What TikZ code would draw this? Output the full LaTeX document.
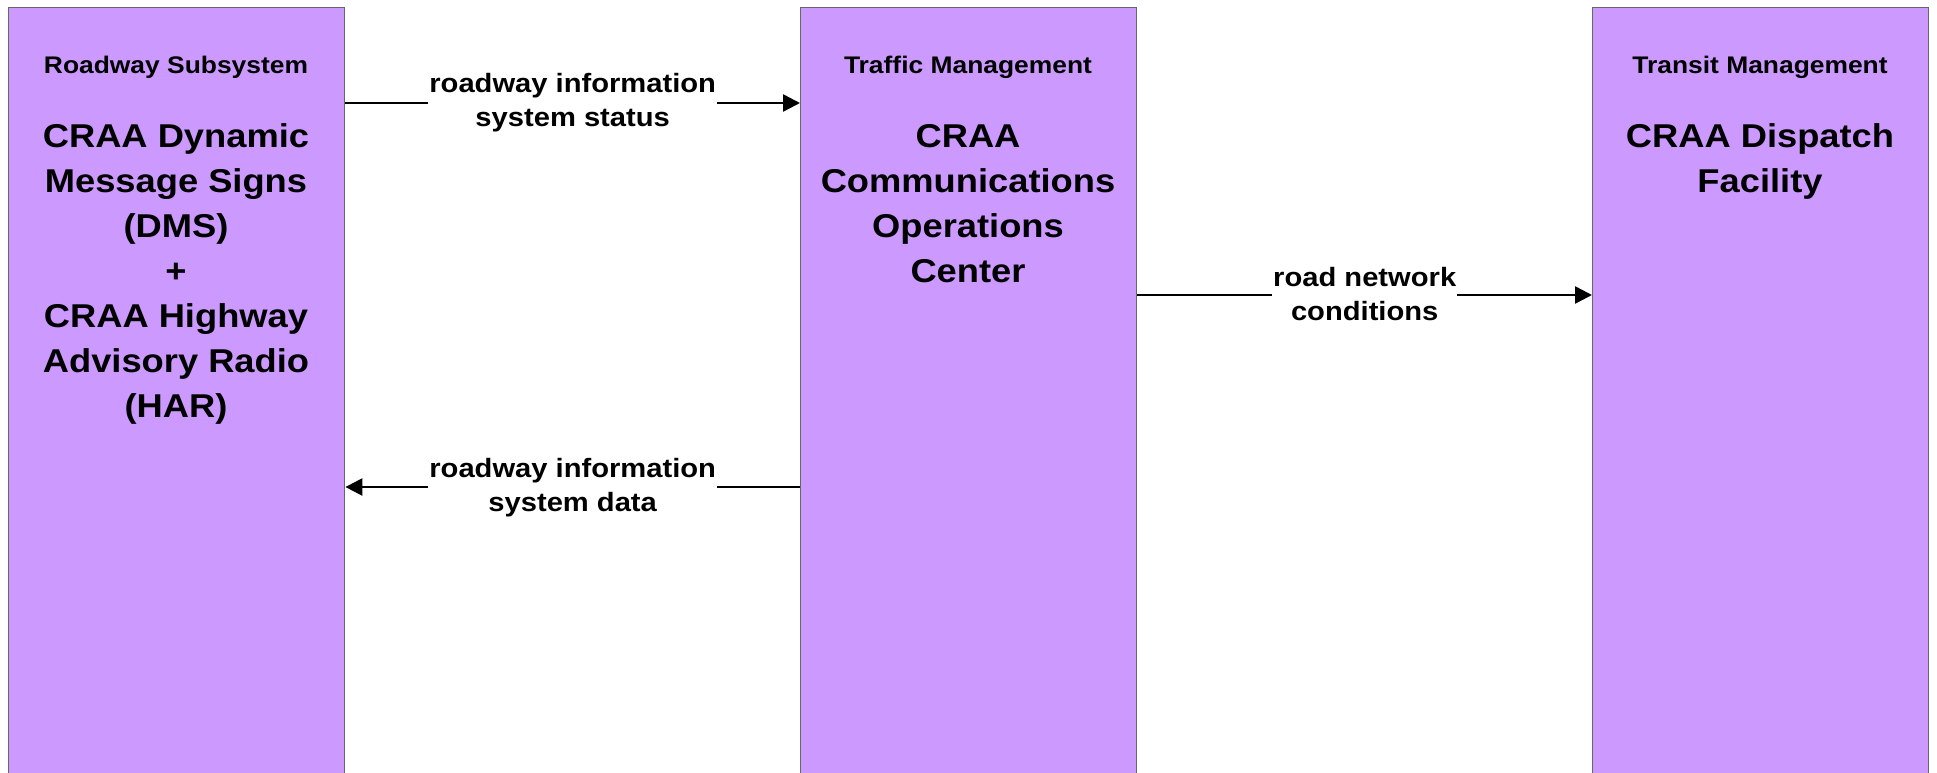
\documentclass[tikz,border=0pt]{standalone}
\usepackage{fontspec}
\setmainfont{Liberation Sans}
\newfontfamily\af[FakeStretch=1.1]{Liberation Sans}
\usetikzlibrary{arrows.meta}
\definecolor{boxfill}{RGB}{204,153,255}
\definecolor{boxline}{RGB}{102,102,102}
\tikzset{
  sysbox/.style={draw=boxline, line width=1.4pt, fill=boxfill, rectangle, minimum width=336pt, minimum height=790pt, anchor=north west, inner sep=0pt},
  titletext/.style={font=\af\bfseries\fontsize{24}{28}\selectfont, anchor=base, inner sep=0pt},
  nametext/.style={font=\af\bfseries\fontsize{33}{45}\selectfont, align=center, anchor=base, inner sep=0pt},
  flowlab/.style={font=\af\bfseries\fontsize{26.5}{34}\selectfont, align=center, fill=white, inner xsep=1pt, inner ysep=0pt, anchor=base, yshift=-24pt},
  flow/.style={line width=2.5pt, -{Triangle[length=17pt, width=17pt]}}
}
\begin{document}
\begin{tikzpicture}[x=1pt, y=-1pt]
\useasboundingbox (0,0) rectangle (1937,773);
\clip (0,0) rectangle (1937,773);
\node[sysbox] (b1) at (8,7) {};
\node[sysbox] (b2) at (800,7) {};
\node[sysbox] (b3) at (1592,7) {};
\node[titletext] (t1) at (176,74) {Roadway Subsystem};
\node[titletext] (t2) at (968,74) {Traffic Management};
\node[titletext] (t3) at (1760,74) {Transit Management};
\node[nametext] (n1) at (176,417) {CRAA Dynamic\\Message Signs\\(DMS)\\+\\CRAA Highway\\Advisory Radio\\(HAR)};
\node[nametext] (n2) at (968,282) {CRAA\\Communications\\Operations\\Center};
\node[nametext] (n3) at (1760,192) {CRAA Dispatch\\Facility};
\coordinate (y1) at (0,103);
\coordinate (y2) at (0,487);
\coordinate (y3) at (0,295);
\draw[flow] (b1.east |- y1) -- (b2.west |- y1) node[midway, flowlab] (l1) {roadway information\\system status};
\draw[flow] (b2.west |- y2) -- (b1.east |- y2) node[midway, flowlab] (l2) {roadway information\\system data};
\draw[flow] (b2.east |- y3) -- (b3.west |- y3) node[midway, flowlab, yshift=-1.5pt] (l3) {road network\\conditions};
\end{tikzpicture}
\end{document}
